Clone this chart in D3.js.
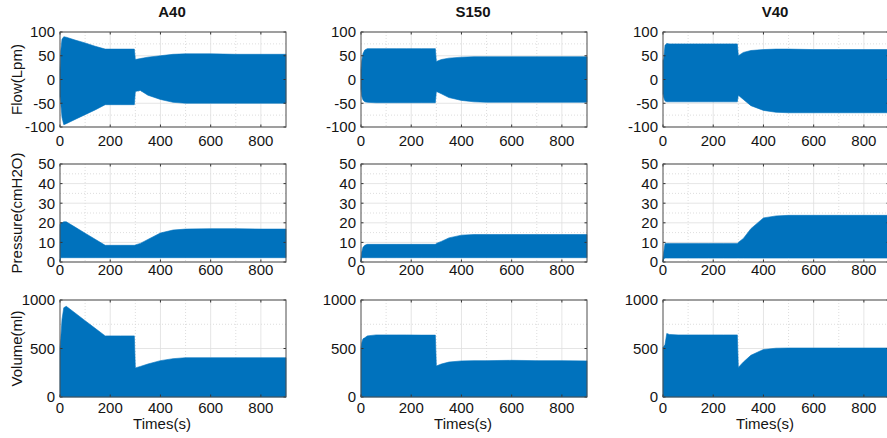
<!DOCTYPE html>
<html>
<head>
<meta charset="utf-8">
<script src="https://cdn.jsdelivr.net/npm/d3@7/dist/d3.min.js"></script>
<style>
    body { margin: 0; background: #ffffff; }
    text { font-family: "Liberation Sans", Arial, Helvetica, sans-serif; fill: #141414; }
</style>
</head>
<body>
<svg id="SVG_CONTAINER" width="887" height="438"></svg>
<script>
// time samples (s) shared by every panel
const times = [0, 3, 8, 15, 25, 60, 100, 140, 180, 240, 296, 300, 320, 350, 400, 450, 500, 600, 700, 800, 900];

// envelope of the oscillating signals (upper / lower)
const a40FlowHi  = [20, 60, 85, 90, 89, 83, 77, 70, 64, 64, 64, 42, 44, 47, 50, 53, 54, 54, 53, 53, 53];
const a40FlowLo  = [-35, -50, -80, -95, -93, -84, -74, -64, -53, -53, -53, -25, -23, -33, -42, -48, -50, -50, -50, -50, -50];
const s150FlowHi = [20, 40, 55, 62, 65, 65, 65, 65, 65, 65, 65, 38, 42, 45, 47, 48, 48, 48, 48, 48, 48];
const s150FlowLo = [-20, -35, -43, -47, -48, -49, -49, -49, -49, -49, -49, -25, -30, -38, -44, -47, -48, -48, -48, -48, -48];
const v40FlowHi  = [40, 45, 72, 76, 75, 75, 75, 75, 75, 75, 75, 50, 57, 61, 63, 64, 64, 63, 63, 63, 63];
const v40FlowLo  = [-30, -38, -45, -47, -47, -47, -47, -47, -47, -47, -47, -33, -42, -55, -65, -69, -70, -70, -70, -70, -70];

const a40PresHi  = [19, 20, 20, 20.5, 20.5, 17.8, 14.7, 11.6, 8.5, 8.5, 8.5, 8.7, 9.5, 11.5, 14.8, 16.3, 16.8, 17, 17, 16.8, 16.8];
const a40PresLo  = [0.5, 2.2, 2.2, 2.2, 2.2, 2.2, 2.2, 2.2, 2.2, 2.2, 2.2, 2.2, 2.2, 2.2, 2.2, 2.2, 2.2, 2.2, 2.2, 2.2, 2.2];
const s150PresHi = [2, 5, 7.5, 8.5, 9, 9, 9, 9, 9, 9, 9, 9.5, 10.5, 12.3, 13.7, 14, 14, 14, 14, 14, 14];
const s150PresLo = [0, 2.2, 2.2, 2.2, 2.2, 2.2, 2.2, 2.2, 2.2, 2.2, 2.2, 2.2, 2.2, 2.2, 2.2, 2.2, 2.2, 2.2, 2.2, 2.2, 2.2];
const v40PresHi  = [2, 5, 9.5, 9.5, 9.5, 9.5, 9.5, 9.5, 9.5, 9.5, 9.5, 10, 12, 17, 22.5, 23.5, 23.8, 23.8, 23.8, 23.8, 23.8];
const v40PresLo  = [0, 1.5, 2, 2, 2, 2, 2, 2, 2, 2, 2, 2, 2, 2, 2, 2, 2, 2, 2, 2, 2];

const a40VolHi   = [500, 600, 800, 920, 935, 866, 787, 708, 630, 630, 630, 300, 315, 340, 375, 395, 405, 405, 405, 405, 405];
const s150VolHi  = [500, 560, 600, 610, 630, 640, 640, 640, 640, 638, 638, 320, 340, 360, 372, 375, 375, 378, 375, 375, 372];
const v40VolHi   = [510, 520, 540, 655, 645, 640, 640, 640, 640, 640, 640, 305, 360, 430, 490, 503, 505, 505, 505, 505, 505];
const volLo      = [0, 0, 0, 0, 0, 0, 0, 0, 0, 0, 0, 0, 0, 0, 0, 0, 0, 0, 0, 0, 0];

const columnTitles = ["A40", "S150", "V40"];
const rowLabels = ["Flow(Lpm)", "Pressure(cmH2O)", "Volume(ml)"];
const rowDomains = [[-100, 100], [0, 50], [0, 1000]];
const rowTicks = [[-100, -50, 0, 50, 100], [0, 10, 20, 30, 40, 50], [0, 500, 1000]];
const rowMinorStep = [25, 5, 250];
const xTicks = [0, 200, 400, 600, 800];
const xLabel = "Times(s)";

// panels[row][col] = [upper, lower]
const panels = [
    [[a40FlowHi, a40FlowLo], [s150FlowHi, s150FlowLo], [v40FlowHi, v40FlowLo]],
    [[a40PresHi, a40PresLo], [s150PresHi, s150PresLo], [v40PresHi, v40PresLo]],
    [[a40VolHi, volLo], [s150VolHi, volLo], [v40VolHi, volLo]]
];

//layout of the grid of axes
const COL_LEFT = [60, 361, 663];
const PLOT_W = 226;
const ROW_Y = [[32, 127], [164, 262], [300, 397]];
const XTICK_BASE = [146, 275, 413];
const BLUE = "#0072BD";

let svg = d3.select("#SVG_CONTAINER");

for (let r = 0; r < 3; r++) {
    for (let c = 0; c < 3; c++) {
        drawPanel(r, c);
    }
}

function drawPanel(r, c) {
    let left = COL_LEFT[c], right = left + PLOT_W;
    let top = ROW_Y[r][0], bottom = ROW_Y[r][1];

    let xScale = d3.scaleLinear().domain([0, 900]).range([left, right]);
    let yScale = d3.scaleLinear().domain(rowDomains[r]).range([bottom, top]);

    let g = svg.append("g");

    //minor grid (dotted)
    let xMinor = d3.range(100, 900, 200);
    let yMinor = d3.range(rowDomains[r][0], rowDomains[r][1] + 0.001, rowMinorStep[r])
        .filter(v => rowTicks[r].indexOf(v) < 0);
    g.selectAll(".xminor").data(xMinor).enter().append("line")
        .attr("x1", d => xScale(d)).attr("x2", d => xScale(d))
        .attr("y1", top).attr("y2", bottom)
        .style("stroke", "#d4d4d4").style("stroke-width", 0.8).style("stroke-dasharray", "1,2");
    g.selectAll(".yminor").data(yMinor).enter().append("line")
        .attr("x1", left).attr("x2", right)
        .attr("y1", d => yScale(d)).attr("y2", d => yScale(d))
        .style("stroke", "#d4d4d4").style("stroke-width", 0.8).style("stroke-dasharray", "1,2");

    //major grid
    g.selectAll(".xmajor").data(xTicks.slice(1)).enter().append("line")
        .attr("x1", d => xScale(d)).attr("x2", d => xScale(d))
        .attr("y1", top).attr("y2", bottom)
        .style("stroke", "#dedede").style("stroke-width", 0.8);
    g.selectAll(".ymajor").data(rowTicks[r]).enter().append("line")
        .attr("x1", left).attr("x2", right)
        .attr("y1", d => yScale(d)).attr("y2", d => yScale(d))
        .style("stroke", "#dedede").style("stroke-width", 0.8);

    //signal envelope
    let hi = panels[r][c][0], lo = panels[r][c][1];
    let area = d3.area()
        .x((d, i) => xScale(times[i]))
        .y0((d, i) => yScale(lo[i]))
        .y1((d, i) => yScale(hi[i]));
    g.append("path")
        .datum(times)
        .attr("d", area)
        .style("fill", BLUE)
        .style("stroke", BLUE)
        .style("stroke-width", 0.6);

    //inner tick marks, all four sides
    xTicks.forEach(function (t) {
        g.append("line").attr("x1", xScale(t)).attr("x2", xScale(t))
            .attr("y1", bottom).attr("y2", bottom - 2.5).style("stroke", "#333");
        g.append("line").attr("x1", xScale(t)).attr("x2", xScale(t))
            .attr("y1", top).attr("y2", top + 2.5).style("stroke", "#333");
    });
    rowTicks[r].forEach(function (t) {
        g.append("line").attr("x1", left).attr("x2", left + 2.5)
            .attr("y1", yScale(t)).attr("y2", yScale(t)).style("stroke", "#333");
        g.append("line").attr("x1", right).attr("x2", right - 2.5)
            .attr("y1", yScale(t)).attr("y2", yScale(t)).style("stroke", "#333");
    });

    //box
    g.append("rect")
        .attr("x", left).attr("y", top)
        .attr("width", PLOT_W).attr("height", bottom - top)
        .style("fill", "none").style("stroke", "#4d4d4d").style("stroke-width", 1);

    //tick labels
    g.selectAll(".xlab").data(xTicks).enter().append("text")
        .attr("x", d => xScale(d)).attr("y", XTICK_BASE[r])
        .attr("text-anchor", "middle").style("font-size", "15px")
        .text(d => d);
    g.selectAll(".ylab").data(rowTicks[r]).enter().append("text")
        .attr("x", left - 5).attr("y", d => yScale(d))
        .attr("dy", "0.36em")
        .attr("text-anchor", "end").style("font-size", "15px")
        .text(d => d);

    //titles and labels
    if (r === 0) {
        g.append("text")
            .attr("x", (left + right) / 2 - 1).attr("y", 17)
            .attr("text-anchor", "middle")
            .style("font-size", "15px").style("font-weight", "bold")
            .text(columnTitles[c]);
    }
    if (c === 0) {
        let cy = (top + bottom) / 2;
        g.append("text")
            .attr("transform", "translate(22," + cy + ") rotate(-90)")
            .attr("text-anchor", "middle")
            .style("font-size", "15px")
            .text(rowLabels[r]);
    }
    if (r === 2) {
        g.append("text")
            .attr("x", (left + right) / 2 - 11).attr("y", 429)
            .attr("text-anchor", "middle")
            .style("font-size", "15px")
            .text(xLabel);
    }
}
</script>
</body>
</html>
